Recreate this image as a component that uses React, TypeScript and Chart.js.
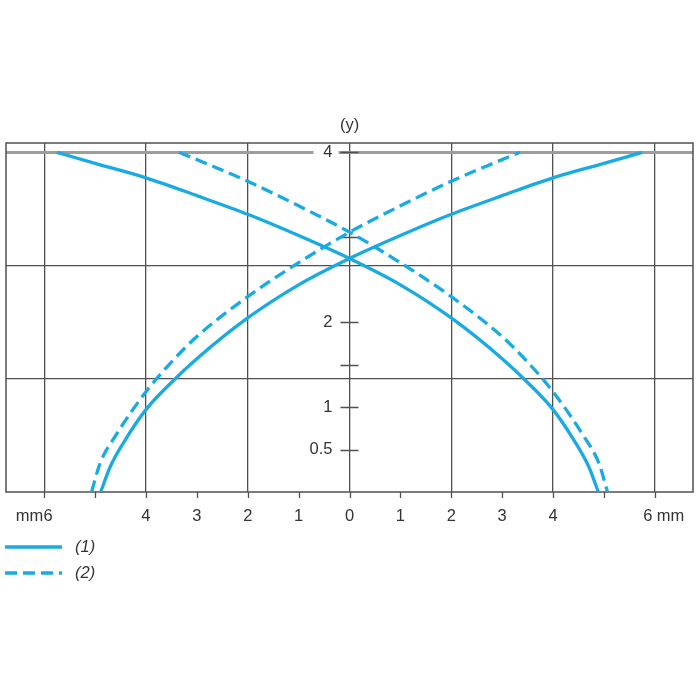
import { useEffect, useRef } from 'react';
import { Chart, registerables } from 'chart.js';

Chart.register(...registerables);

// Curve (1), solid — rising branch and falling branch (x in mm, y)
const C1_RISE_X = [-4.89, -4.7, -4.4, -4.0, -3.5, -3.0, -2.0, -1.0, 0, 1.0, 2.0, 3.0, 4.0, 5.0, 5.75];
const C1_RISE_Y = [0, 0.3, 0.62, 0.97, 1.29, 1.57, 2.05, 2.44, 2.75, 3.02, 3.27, 3.49, 3.7, 3.87, 4.0];
const C1_FALL_X = [-5.75, -5.0, -4.0, -3.0, -2.0, -1.0, 0, 1.0, 2.0, 3.0, 3.5, 4.0, 4.4, 4.7, 4.89];
const C1_FALL_Y = [4.0, 3.87, 3.7, 3.49, 3.27, 3.02, 2.75, 2.44, 2.05, 1.57, 1.29, 0.97, 0.62, 0.3, 0];

// Curve (2), dashed
const C2_RISE_X = [-5.07, -4.9, -4.6, -4.0, -3.5, -3.0, -2.0, -1.0, 0, 1.0, 2.0, 2.7, 3.35];
const C2_RISE_Y = [0, 0.34, 0.66, 1.18, 1.53, 1.83, 2.3, 2.7, 3.06, 3.37, 3.66, 3.84, 4.0];
const C2_FALL_X = [-3.35, -2.7, -2.0, -1.0, 0, 1.0, 2.0, 3.0, 3.5, 4.0, 4.6, 4.9, 5.07];
const C2_FALL_Y = [4.0, 3.84, 3.66, 3.37, 3.06, 2.7, 2.3, 1.83, 1.53, 1.18, 0.66, 0.34, 0];

const SERIES_LABELS = ['(1)', '(2)'];

// Axes
const X_MIN = -6.75;
const X_MAX = 6.75;
const Y_MIN = 0;
const Y_MAX = 4.11;
const X_GRID = [-6, -4, -2, 0, 2, 4, 6];
const X_TICKS = [-6, -5, -4, -3, -2, -1, 0, 1, 2, 3, 4, 5, 6];
const X_LABELS = [-4, -3, -2, -1, 0, 1, 2, 3, 4];
const X_UNIT = 'mm';
const Y_GRID = [1.333, 2.667, 4];
const Y_TICKS = [0.5, 1, 1.5, 2, 3, 4];
const Y_LABELS = [0.5, 1, 2, 4];
const Y_TITLE = '(y)';

const CURVE_COLOR = 'rgb(24,170,226)';
const GRID_COLOR = '#505050';
const TOP_LINE_COLOR = '#9d9d9d';
const TEXT_COLOR = '#333333';
const FONT_FAMILY = '"Liberation Sans", Arial, sans-serif';
const FONT_SIZE = 16.5;
const DASH = [12, 6];

const toPoints = (xs: number[], ys: number[]) => xs.map((x, i) => ({ x, y: ys[i] }));

const decorPlugin = {
  id: 'decor',
  beforeDatasetsDraw(chart: any) {
    const { ctx, chartArea: a, scales } = chart;
    const x = scales.x;
    const y = scales.y;
    const x0 = x.getPixelForValue(0);
    ctx.save();
    // frame
    ctx.strokeStyle = GRID_COLOR;
    ctx.lineWidth = 1.5;
    ctx.strokeRect(a.left, a.top, a.right - a.left, a.bottom - a.top);
    // tick marks
    ctx.lineWidth = 1.3;
    ctx.beginPath();
    X_TICKS.forEach((v) => {
      const px = Math.round(x.getPixelForValue(v)) + 0.5;
      ctx.moveTo(px, a.bottom);
      ctx.lineTo(px, a.bottom + 6);
    });
    Y_TICKS.forEach((v) => {
      const py = Math.round(y.getPixelForValue(v)) + 0.5;
      ctx.moveTo(x0 - 9, py);
      ctx.lineTo(x0 + 9, py);
    });
    ctx.stroke();

    ctx.fillStyle = TEXT_COLOR;
    ctx.font = `${FONT_SIZE}px ${FONT_FAMILY}`;
    ctx.textBaseline = 'middle';
    // x labels
    const ly = a.bottom + 24;
    ctx.textAlign = 'center';
    X_LABELS.forEach((v) => {
      ctx.fillText(String(Math.abs(v)), x.getPixelForValue(v), ly);
    });
    const xl = x.getPixelForValue(X_GRID[0]);
    const xr = x.getPixelForValue(X_GRID[X_GRID.length - 1]);
    ctx.fillText(String(Math.abs(X_GRID[0])), xl + 4, ly);
    ctx.fillText(String(Math.abs(X_GRID[X_GRID.length - 1])), xr - 7, ly);
    ctx.textAlign = 'right';
    ctx.fillText(X_UNIT, xl - 1, ly);
    ctx.textAlign = 'left';
    ctx.fillText(X_UNIT, xr + 2, ly);

    // y labels
    ctx.textAlign = 'right';
    Y_LABELS.forEach((v) => {
      const py = y.getPixelForValue(v);
      if (v === Y_GRID[Y_GRID.length - 1]) {
        ctx.fillStyle = '#ffffff';
        ctx.fillRect(x0 - 36, py - 6, 25, 12);
        ctx.fillStyle = TEXT_COLOR;
      }
      ctx.fillText(String(v), x0 - 17, py);
    });
    // y title
    ctx.textAlign = 'center';
    ctx.fillText(Y_TITLE, x0, a.top - 18);
    ctx.restore();
  },
  afterDraw(chart: any) {
    const { ctx, chartArea: a } = chart;
    ctx.save();
    SERIES_LABELS.forEach((lab, i) => {
      const ds = chart.data.datasets.find((d: any) => d.label === lab);
      const yy = a.bottom + 55 + i * 26;
      ctx.strokeStyle = ds.borderColor;
      ctx.lineWidth = 3.5;
      ctx.setLineDash(ds.borderDash || []);
      ctx.beginPath();
      ctx.moveTo(5, yy);
      ctx.lineTo(62, yy);
      ctx.stroke();
      ctx.setLineDash([]);
      ctx.fillStyle = TEXT_COLOR;
      ctx.font = `italic ${FONT_SIZE}px ${FONT_FAMILY}`;
      ctx.textAlign = 'left';
      ctx.textBaseline = 'middle';
      ctx.fillText(lab, 75, yy);
    });
    ctx.restore();
  },
};

export default function App() {
  const ref = useRef<HTMLCanvasElement | null>(null);
  useEffect(() => {
    if (!ref.current) return;
    const line = (label: string, xs: number[], ys: number[], dash?: number[]) => ({
      label,
      data: toPoints(xs, ys),
      showLine: true,
      borderColor: CURVE_COLOR,
      backgroundColor: CURVE_COLOR,
      borderWidth: 3.3,
      borderDash: dash || [],
      pointRadius: 0,
      cubicInterpolationMode: 'monotone' as const,
      fill: false,
    });
    const chart = new Chart(ref.current, {
      type: 'scatter',
      data: {
        datasets: [
          line(SERIES_LABELS[0], C1_RISE_X, C1_RISE_Y),
          line(SERIES_LABELS[0], C1_FALL_X, C1_FALL_Y),
          line(SERIES_LABELS[1], C2_RISE_X, C2_RISE_Y, DASH),
          line(SERIES_LABELS[1], C2_FALL_X, C2_FALL_Y, DASH),
        ],
      },
      options: {
        animation: false,
        responsive: false,
        devicePixelRatio: 1,
        events: [],
        layout: { autoPadding: false, padding: { left: 6, right: 7, top: 143, bottom: 208 } },
        plugins: { legend: { display: false }, tooltip: { enabled: false } },
        scales: {
          x: {
            type: 'linear',
            min: X_MIN,
            max: X_MAX,
            afterBuildTicks: (s: any) => {
              s.ticks = X_GRID.map((v) => ({ value: v }));
            },
            afterFit: (s: any) => {
              s.height = 0;
            },
            ticks: { display: false },
            grid: { color: GRID_COLOR, lineWidth: 1.3, drawTicks: false },
            border: { display: false },
          },
          y: {
            type: 'linear',
            min: Y_MIN,
            max: Y_MAX,
            afterBuildTicks: (s: any) => {
              s.ticks = Y_GRID.map((v) => ({ value: v }));
            },
            afterFit: (s: any) => {
              s.width = 0;
            },
            ticks: { display: false },
            grid: {
              color: (c: any) => (c.tick && c.tick.value === 4 ? TOP_LINE_COLOR : GRID_COLOR),
              lineWidth: (c: any) => (c.tick && c.tick.value === 4 ? 3 : 1.3),
              drawTicks: false,
            },
            border: { display: false },
          },
        },
      },
      plugins: [decorPlugin],
    });
    return () => chart.destroy();
  }, []);
  return (
    <div style={{ position: 'fixed', left: 0, top: 0, width: 700, height: 700, background: '#ffffff' }}>
      <canvas ref={ref} width={700} height={700} />
    </div>
  );
}
